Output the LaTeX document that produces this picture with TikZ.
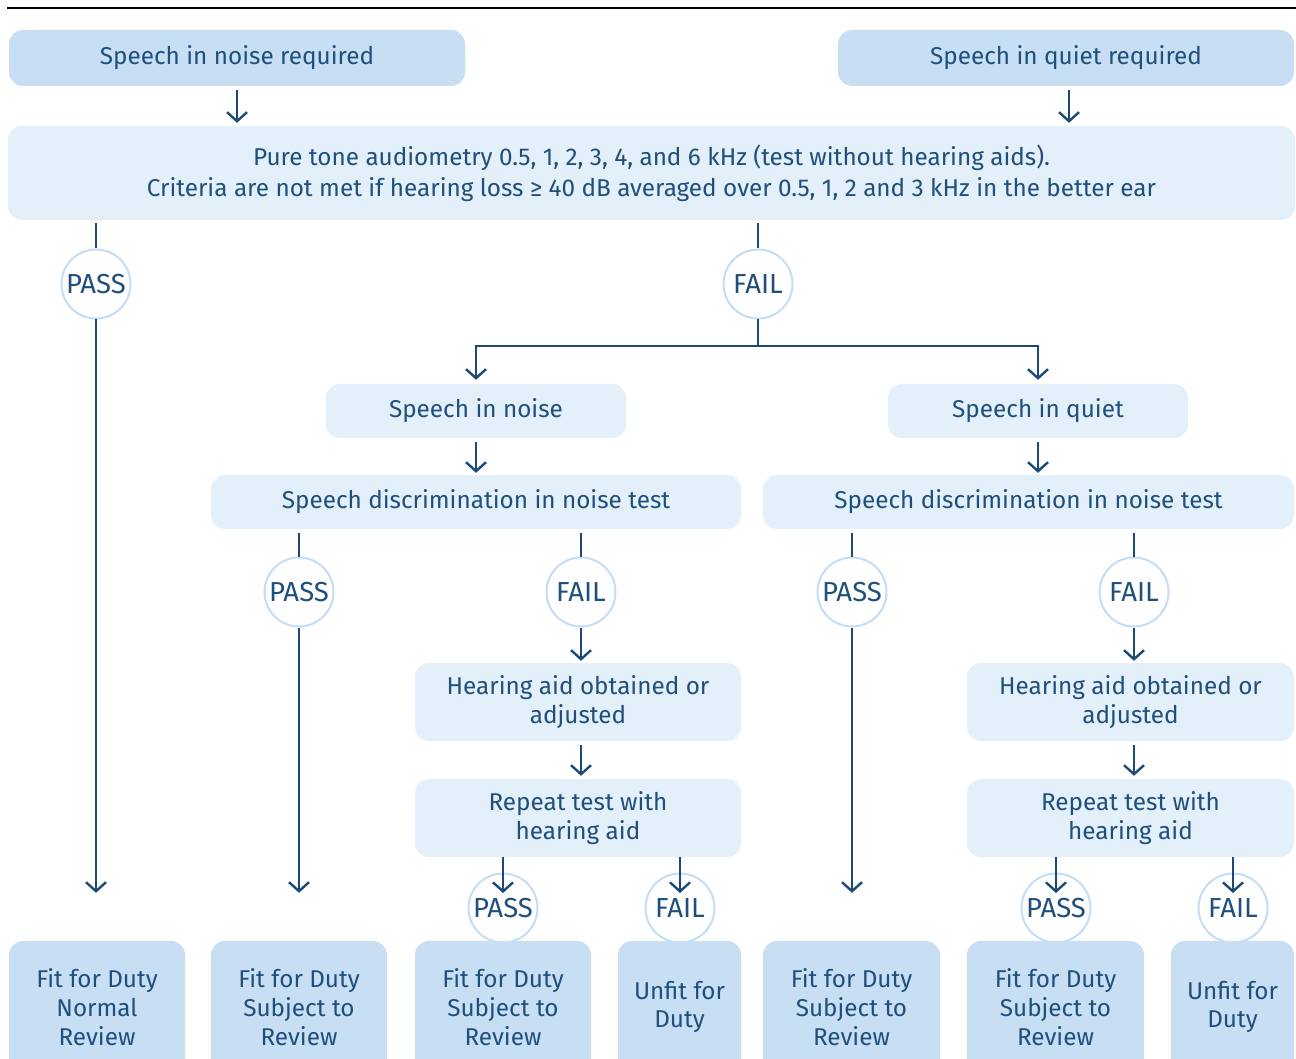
\documentclass[tikz,border=0pt]{standalone}
\usepackage{fontspec}
\setmainfont{Fira Sans}
\usetikzlibrary{arrows.meta,calc}
\definecolor{ink}{HTML}{1B4A78}
\definecolor{txt}{HTML}{1E4F7D}
\definecolor{boxdark}{HTML}{C7DEF3}
\definecolor{boxlight}{HTML}{E3EFF9}
\definecolor{ring}{HTML}{C5DDF3}
\tikzset{
  every node/.style={font=\fontsize{24.3}{28.7}\selectfont, text=txt, align=center, inner sep=0pt},
  darkbox/.style={fill=boxdark, rounded corners=14pt, minimum width=#1},
  lightbox/.style={fill=boxlight, rounded corners=14pt, minimum width=#1},
  verdict/.style={circle, draw=ring, line width=2pt, fill=white, minimum size=69pt,
                  font=\fontsize{27.5}{30}\selectfont},
  link/.style={draw=ink, line width=2.4pt},
  arr/.style={link, -{Straight Barb[length=9pt,width=20pt,line width=2.4pt]}},
}
\begin{document}
\begin{tikzpicture}[x=1pt,y=-1pt]
\useasboundingbox (0,0) rectangle (1296,1059);
\clip (0,0) rectangle (1296,1059);
% top rule
\draw[line width=1.3pt] (7,8) -- (1296,8);

% requirement boxes
\node[darkbox=456pt, minimum height=56pt] (nreq) at (237,58) {Speech in noise required};
\node[darkbox=456pt, minimum height=56pt] (qreq) at (1066,58) {Speech in quiet required};
\node[lightbox=1287pt, minimum height=94pt, font=\fontsize{24.3}{31}\selectfont] (pta) at (651.5,173)
  {Pure tone audiometry 0.5, 1, 2, 3, 4, and 6 kHz (test without hearing aids).\\
   Criteria are not met if hearing loss ≥ 40 dB averaged over 0.5, 1, 2 and 3 kHz in the better ear};
\draw[arr] ([yshift=-4pt]nreq.south) -- ([yshift=3pt]pta.north -| nreq.south);
\draw[arr] ([yshift=-4pt]qreq.south -| 1069,0) -- ([yshift=3pt]pta.north -| 1069,0);

% first verdicts
\node[verdict] (p0) at (96,284) {PASS};
\node[verdict] (f0) at (758,284) {FAIL};
\draw[link] ([yshift=-3pt]pta.south -| p0) -- (p0.north);
\draw[link] ([yshift=-3pt]pta.south -| f0) -- (f0.north);

% branches
\node[lightbox=300pt, minimum height=54pt] (sin) at (476,411) {Speech in noise};
\node[lightbox=300pt, minimum height=54pt] (siq) at (1038,411) {Speech in quiet};
\coordinate (split) at (758,346);
\draw[link] (f0.south) -- (split);
\draw[arr] (split) -| ([yshift=4pt]sin.north);
\draw[arr] (split) -| ([yshift=4pt]siq.north);

\node[lightbox=530pt, minimum height=54pt] (sdl) at (476,502) {Speech discrimination in noise test};
\node[lightbox=531pt, minimum height=54pt] (sdr) at (1028.5,502) {Speech discrimination in noise test};
\draw[arr] ([yshift=-4pt]sin.south) -- ([yshift=2pt]sdl.north -| sin.south);
\draw[arr] ([yshift=-4pt]siq.south) -- ([yshift=2pt]sdr.north -| siq.south);

% second verdicts
\node[verdict] (pl) at (299,592) {PASS};
\node[verdict] (fl) at (581,592) {FAIL};
\node[verdict] (pr) at (852,592) {PASS};
\node[verdict] (fr) at (1134,592) {FAIL};
\foreach \c in {pl,fl}{\draw[link] ([yshift=-4pt]sdl.south -| \c) -- (\c.north);}
\foreach \c in {pr,fr}{\draw[link] ([yshift=-4pt]sdr.south -| \c) -- (\c.north);}

% hearing aid steps
\node[lightbox=326pt, minimum height=78pt] (hal) at (578,702) {Hearing aid obtained or\\adjusted};
\node[lightbox=327pt, minimum height=78pt] (har) at (1130.5,702) {Hearing aid obtained or\\adjusted};
\node[lightbox=326pt, minimum height=78pt] (rtl) at (578,818) {Repeat test with\\hearing aid};
\node[lightbox=327pt, minimum height=78pt] (rtr) at (1130.5,818) {Repeat test with\\hearing aid};
\draw[arr] (fl.south) -- ([yshift=2pt]hal.north -| fl);
\draw[arr] (fr.south) -- ([yshift=2pt]har.north -| fr);
\draw[arr] ([yshift=-4pt]hal.south -| fl) -- ([yshift=3pt]rtl.north -| fl);
\draw[arr] ([yshift=-4pt]har.south -| fr) -- ([yshift=3pt]rtr.north -| fr);

% final verdicts
\node[verdict] (pl2) at (503,908) {PASS};
\node[verdict] (fl2) at (680,908) {FAIL};
\node[verdict] (pr2) at (1056,908) {PASS};
\node[verdict] (fr2) at (1233,908) {FAIL};
\draw[arr] (rtl.south -| pl2) -- (pl2.center |- 0,893);
\draw[arr] (rtl.south -| fl2) -- (fl2.center |- 0,893);
\draw[arr] (rtr.south -| pr2) -- (pr2.center |- 0,893);
\draw[arr] (rtr.south -| fr2) -- (fr2.center |- 0,893);

% outcomes
\node[darkbox=176pt, minimum height=132pt] (o1) at (97,1007) {Fit for Duty\\Normal\\Review};
\node[darkbox=176pt, minimum height=132pt] (o2) at (299,1007) {Fit for Duty\\Subject to\\Review};
\node[darkbox=176pt, minimum height=132pt] (o3) at (503,1007) {Fit for Duty\\Subject to\\Review};
\node[darkbox=123pt, minimum height=132pt] (o4) at (679.5,1007) {Unfit for\\Duty};
\node[darkbox=177pt, minimum height=132pt] (o5) at (851.5,1007) {Fit for Duty\\Subject to\\Review};
\node[darkbox=177pt, minimum height=132pt] (o6) at (1055.5,1007) {Fit for Duty\\Subject to\\Review};
\node[darkbox=123pt, minimum height=132pt] (o7) at (1232.5,1007) {Unfit for\\Duty};

% long pass lines
\draw[arr] (p0.south) -- ([yshift=48pt]o1.north -| p0);
\draw[arr] (pl.south) -- ([yshift=48pt]o2.north -| pl);
\draw[arr] (pr.south) -- ([yshift=48pt]o5.north -| pr);
\end{tikzpicture}
\end{document}
